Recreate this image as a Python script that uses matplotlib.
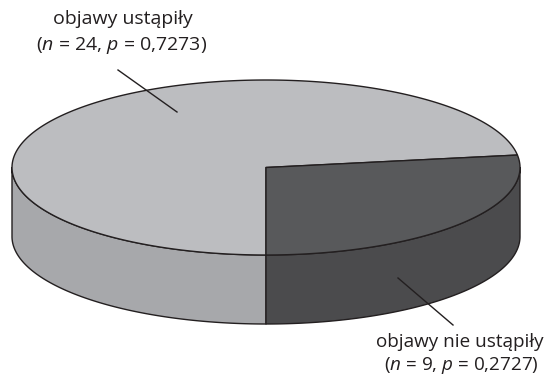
import numpy as np
import matplotlib
matplotlib.use("Agg")
import matplotlib.pyplot as plt
from matplotlib.patches import Polygon

plt.rcParams['font.family'] = ['Open Sans', 'DejaVu Sans']
plt.rcParams['mathtext.fontset'] = 'custom'
plt.rcParams['mathtext.rm'] = 'Open Sans'
plt.rcParams['mathtext.it'] = 'Open Sans:italic'

# wyniki
labels = ['objawy ustąpiły', 'objawy nie ustąpiły']
counts = [24, 9]
props = ['0,7273', '0,2727']

top_cols = ['#bcbdc0', '#58595b']
side_cols = ['#a7a8ab', '#4b4b4d']
edge = '#231f20'

# geometria walca (piksele)
cx, cy = 266, 167.5
rx, ry = 254, 87.5
depth = 69


def pt(t, dz=0.0):
    t = np.radians(t)
    return np.column_stack([cx + rx * np.cos(t), cy - ry * np.sin(t) + dz])


fig = plt.figure(figsize=(5.47, 3.78), dpi=100)
ax = fig.add_axes([0, 0, 1, 1])
ax.set_xlim(0, 547)
ax.set_ylim(378, 0)
ax.axis('off')

# kąty wycinków: "nie ustąpiły" od godz. 6 przeciwnie do wskazówek
fr = np.array(counts) / sum(counts)
a_dark0 = -90.0
a_dark1 = a_dark0 + 360 * fr[1]
spans = [(a_dark1, 270.0), (a_dark0, a_dark1)]

# ścianki boczne - widoczna jest tylko przednia połowa (180..360 st.)
for i, (a0, a1) in enumerate(spans):
    lo, hi = a0 % 360, a0 % 360 + (a1 - a0)
    lo, hi = max(lo, 180), min(hi, 360)
    if hi <= lo:
        continue
    t = np.linspace(lo, hi, 200)
    top = pt(t)
    bot = pt(t[::-1], depth)
    ax.add_patch(Polygon(np.vstack([top, bot]), closed=True, fc=side_cols[i],
                         ec=edge, lw=1.0, joinstyle='round'))

# wierzch
for i, (a0, a1) in enumerate(spans):
    t = np.linspace(a0, a1, 300)
    poly = np.vstack([[cx, cy], pt(t)])
    ax.add_patch(Polygon(poly, closed=True, fc=top_cols[i], ec=edge, lw=1.0,
                         joinstyle='round'))

# podpisy z liniami odniesienia
ax.plot([118, 177], [70, 112], color=edge, lw=1.0)
ax.plot([398, 453], [278, 325], color=edge, lw=1.0)

fs = 14
ax.text(123, 19, labels[0], ha='center', va='center', fontsize=fs, color=edge)
ax.text(122, 45, r'($\mathit{n}$ = %d, $\mathit{p}$ = %s)' % (counts[0], props[0]),
        ha='center', va='center', fontsize=fs, color=edge)
ax.text(460, 342, labels[1], ha='center', va='center', fontsize=13.6, color=edge)
ax.text(461, 366, r'($\mathit{n}$ = %d, $\mathit{p}$ = %s)' % (counts[1], props[1]),
        ha='center', va='center', fontsize=13.6, color=edge)

fig.savefig('out.png', dpi=100)
